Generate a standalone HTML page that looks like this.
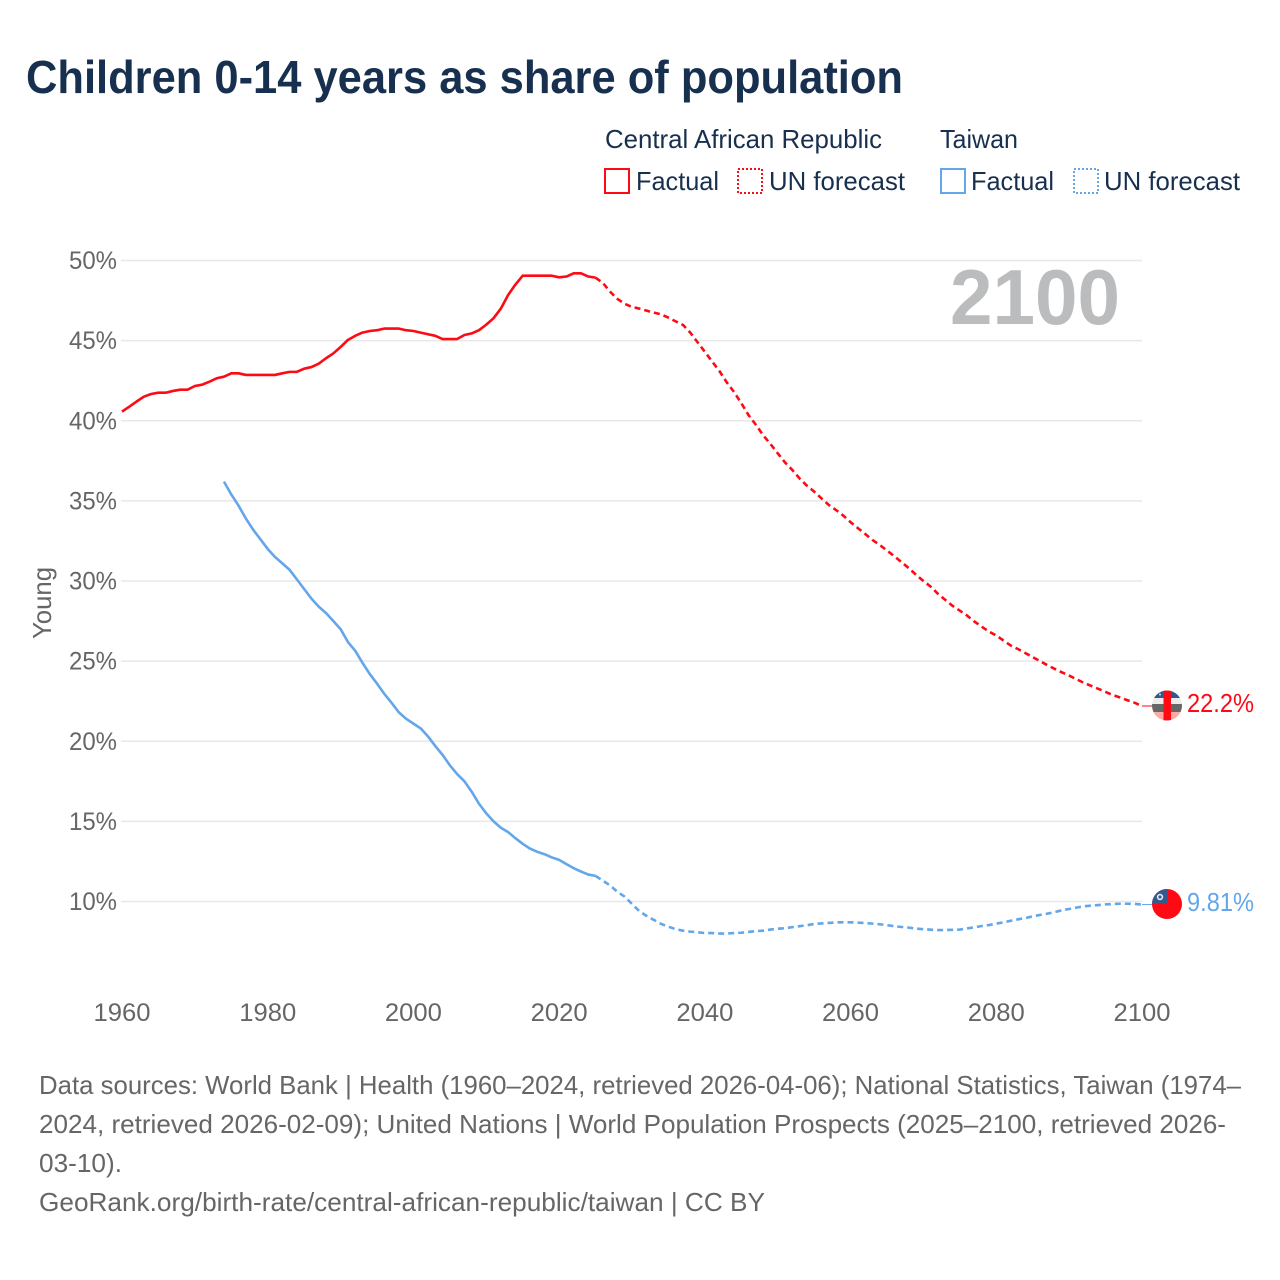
<!DOCTYPE html>
<html lang="en">
<head>
<meta charset="utf-8">
<title>Children 0-14 years as share of population</title>
<style>
html,body{margin:0;padding:0;background:#fff;}
svg{display:block;font-family:"Liberation Sans",Arial,sans-serif;}
</style>
</head>
<body>
<svg id="chart" width="1280" height="1280" viewBox="0 0 1280 1280" xmlns="http://www.w3.org/2000/svg">
  <rect x="0" y="0" width="1280" height="1280" fill="#fff"/>
  <text x="26" y="93" font-size="46" font-weight="700" fill="#18304f" textLength="877" lengthAdjust="spacingAndGlyphs">Children 0-14 years as share of population</text>

  <g font-size="26" fill="#18304f">
    <text x="605" y="148" textLength="277" lengthAdjust="spacingAndGlyphs">Central African Republic</text>
    <rect x="605" y="169" width="24" height="24" fill="none" stroke="#ff0a14" stroke-width="2"/>
    <text x="636" y="190" textLength="83" lengthAdjust="spacingAndGlyphs">Factual</text>
    <rect x="738" y="169" width="24" height="24" fill="none" stroke="#ff0a14" stroke-width="2" stroke-dasharray="2 2"/>
    <text x="769" y="190" textLength="136" lengthAdjust="spacingAndGlyphs">UN forecast</text>
    <text x="940" y="148" textLength="78" lengthAdjust="spacingAndGlyphs">Taiwan</text>
    <rect x="941" y="169" width="24" height="24" fill="none" stroke="#63a6ea" stroke-width="2"/>
    <text x="971" y="190" textLength="83" lengthAdjust="spacingAndGlyphs">Factual</text>
    <rect x="1074" y="169" width="24" height="24" fill="none" stroke="#63a6ea" stroke-width="2" stroke-dasharray="2 2"/>
    <text x="1104" y="190" textLength="136" lengthAdjust="spacingAndGlyphs">UN forecast</text>
  </g>

  <text transform="translate(51,603) rotate(-90)" text-anchor="middle" font-size="26" fill="#666" textLength="72" lengthAdjust="spacingAndGlyphs">Young</text>
  <g id="grid"></g>
  <g id="y-ticks"></g>
  <g id="x-ticks"></g>

  <text x="950" y="324" font-size="78" font-weight="700" fill="#bbbcbe" textLength="170" lengthAdjust="spacingAndGlyphs">2100</text>

  <g id="series"></g>

  <g>
    <clipPath id="clip-car"><circle cx="1167" cy="705.5" r="15"/></clipPath>
    <g clip-path="url(#clip-car)">
      <rect x="1152" y="690" width="30" height="8" fill="#34598f"/>
      <rect x="1152" y="698" width="30" height="6" fill="#ececec"/>
      <rect x="1152" y="704" width="30" height="8" fill="#666"/>
      <rect x="1152" y="712" width="30" height="10" fill="#ffa9a0"/>
      <rect x="1163.5" y="690" width="7.5" height="32" fill="#ff0a14"/>
      <circle cx="1160" cy="694.5" r="1" fill="#ddd"/>
    </g>
  </g>
  <g>
    <clipPath id="clip-tw"><circle cx="1167" cy="904" r="15"/></clipPath>
    <g clip-path="url(#clip-tw)">
      <rect x="1152" y="889" width="30" height="30" fill="#ff0a14"/>
      <rect x="1152" y="889" width="15" height="15" fill="#34598f"/>
      <circle cx="1160" cy="897" r="3.2" fill="#e8ecf2"/>
      <circle cx="1160" cy="897" r="1.6" fill="#34598f"/>
    </g>
  </g>

  <text id="end-car" x="1187" y="712" font-size="26" fill="#ff0a14" textLength="67" lengthAdjust="spacingAndGlyphs"></text>
  <text id="end-tw" x="1187" y="911" font-size="26" fill="#63a6ea" textLength="67" lengthAdjust="spacingAndGlyphs"></text>

  <g font-size="26" fill="#666">
    <text x="39" y="1094" textLength="1202" lengthAdjust="spacingAndGlyphs">Data sources: World Bank | Health (1960–2024, retrieved 2026-04-06); National Statistics, Taiwan (1974–</text>
    <text x="39" y="1133" textLength="1187" lengthAdjust="spacingAndGlyphs">2024, retrieved 2026-02-09); United Nations | World Population Prospects (2025–2100, retrieved 2026-</text>
    <text x="39" y="1172" textLength="83" lengthAdjust="spacingAndGlyphs">03-10).</text>
    <text x="39" y="1211" textLength="726" lengthAdjust="spacingAndGlyphs">GeoRank.org/birth-rate/central-african-republic/taiwan | CC BY</text>
  </g>
</svg>
<script>
const yTicks = [10, 15, 20, 25, 30, 35, 40, 45, 50];
const xTicks = [1960, 1980, 2000, 2020, 2040, 2060, 2080, 2100];
const carEndLabel = "22.2%";
const taiwanEndLabel = "9.81%";
const carFactualStart = 1960;
const carFactual = [
  40.57,40.88,41.2,41.5,41.67,41.75,41.75,41.86,41.94,41.94,
  42.17,42.25,42.44,42.65,42.75,42.96,42.96,42.86,42.86,42.86,
  42.86,42.86,42.96,43.05,43.05,43.25,43.35,43.56,43.9,44.2,
  44.6,45.04,45.3,45.5,45.6,45.65,45.75,45.75,45.75,45.65,
  45.6,45.5,45.4,45.3,45.1,45.1,45.1,45.35,45.45,45.65,
  46.0,46.4,47.0,47.85,48.5,49.05,49.05,49.05,49.05,49.05,
  48.95,49.0,49.2,49.2,49.0,48.93
];
const carForecastStart = 2025;
const carForecast = [
  48.93,48.6,48.05,47.6,47.3,47.1,47.0,46.87,46.75,46.64,
  46.43,46.2,45.98,45.5,44.9,44.3,43.7,43.1,42.4,41.8,
  41.1,40.35,39.75,39.1,38.55,37.97,37.4,36.93,36.4,35.95,
  35.58,35.16,34.75,34.43,34.08,33.67,33.3,32.94,32.56,32.25,
  31.9,31.55,31.17,30.8,30.38,30.0,29.65,29.2,28.82,28.45,
  28.15,27.84,27.47,27.15,26.84,26.6,26.28,25.97,25.75,25.5,
  25.25,25.0,24.75,24.52,24.3,24.1,23.87,23.65,23.46,23.27,
  23.08,22.88,22.73,22.56,22.4,22.2
];
const taiwanFactualStart = 1974;
const taiwanFactual = [
  36.2,35.4,34.7,33.9,33.2,32.6,32.0,31.5,31.1,30.7,
  30.1,29.5,28.9,28.4,28.0,27.5,27.0,26.2,25.65,24.9,
  24.2,23.6,22.96,22.4,21.8,21.4,21.1,20.8,20.3,19.7,
  19.15,18.5,17.95,17.5,16.85,16.1,15.5,15.0,14.6,14.33,
  13.95,13.6,13.3,13.1,12.95,12.75,12.6,12.33,12.08,11.87,
  11.68,11.6
];
const taiwanForecastStart = 2025;
const taiwanForecast = [
  11.6,11.3,11.0,10.6,10.3,9.85,9.4,9.1,8.85,8.6,
  8.43,8.27,8.18,8.12,8.08,8.03,8.03,8.0,8.0,8.03,
  8.05,8.1,8.15,8.18,8.25,8.3,8.33,8.4,8.46,8.52,
  8.6,8.63,8.66,8.7,8.7,8.7,8.68,8.66,8.62,8.58,
  8.52,8.46,8.41,8.37,8.31,8.27,8.24,8.22,8.22,8.23,
  8.25,8.32,8.39,8.47,8.53,8.62,8.7,8.8,8.89,8.97,
  9.07,9.16,9.24,9.34,9.45,9.53,9.62,9.7,9.74,9.78,
  9.82,9.84,9.86,9.86,9.85,9.81
];

const SVGNS = "http://www.w3.org/2000/svg";
const RED = "#ff0a14";
const BLUE = "#63a6ea";
const xScale = function (year) { return 122 + (year - 1960) * (1142 - 122) / 140; };
const yScale = function (v) { return 901.5 - (v - 10) * (901.5 - 260.5) / 40; };

function make(tag, parent, attrs) {
  const el = document.createElementNS(SVGNS, tag);
  Object.keys(attrs).forEach(function (k) { el.setAttribute(k, attrs[k]); });
  parent.appendChild(el);
  return el;
}

const grid = document.getElementById("grid");
const yTickGroup = document.getElementById("y-ticks");
const xTickGroup = document.getElementById("x-ticks");
const seriesGroup = document.getElementById("series");

yTicks.forEach(function (t) {
  const line = make("line", grid, { x1: 121, x2: 1142, y1: yScale(t), y2: yScale(t), stroke: "#e8e8e8", "stroke-width": 1.5 });
  
  
  const label = make("text", yTickGroup, { x: 117, y: yScale(t) + 8.5, "text-anchor": "end", "font-size": 25, fill: "#666", textLength: 48, lengthAdjust: "spacingAndGlyphs" });
  
  
  label.textContent = t + "%";
});

xTicks.forEach(function (t) {
  const label = make("text", xTickGroup, { x: xScale(t), y: 1021, "text-anchor": "middle", "font-size": 25, fill: "#666", textLength: 57, lengthAdjust: "spacingAndGlyphs" });
  
  
  label.textContent = t;
});

function pathFor(start, values) {
  return values.map(function (v, i) {
    return (i ? "L" : "M") + xScale(start + i).toFixed(2) + " " + yScale(v).toFixed(2);
  }).join(" ");
}

function drawSeries(start, values, color, dashed, name) {
  const p = make("path", seriesGroup, { d: pathFor(start, values), fill: "none", stroke: color, "stroke-width": 2.6, "stroke-linejoin": "round" });
  if (dashed) p.setAttribute("stroke-dasharray", "6 4");
  
  
}

drawSeries(carFactualStart, carFactual, RED, false, "line-car-factual");
drawSeries(carForecastStart, carForecast, RED, true, "line-car-forecast");
drawSeries(taiwanFactualStart, taiwanFactual, BLUE, false, "line-taiwan-factual");
drawSeries(taiwanForecastStart, taiwanForecast, BLUE, true, "line-taiwan-forecast");

const carLast = carForecast[carForecast.length - 1];
const taiwanLast = taiwanForecast[taiwanForecast.length - 1];
const carLead = make("line", seriesGroup, { x1: xScale(2100), x2: 1153, y1: yScale(carLast), y2: yScale(carLast), stroke: RED, "stroke-width": 1 });


const twLead = make("line", seriesGroup, { x1: xScale(2100), x2: 1153, y1: yScale(taiwanLast), y2: yScale(taiwanLast), stroke: BLUE, "stroke-width": 1 });



document.getElementById("end-car").textContent = carEndLabel;
document.getElementById("end-tw").textContent = taiwanEndLabel;
</script>
</body>
</html>
